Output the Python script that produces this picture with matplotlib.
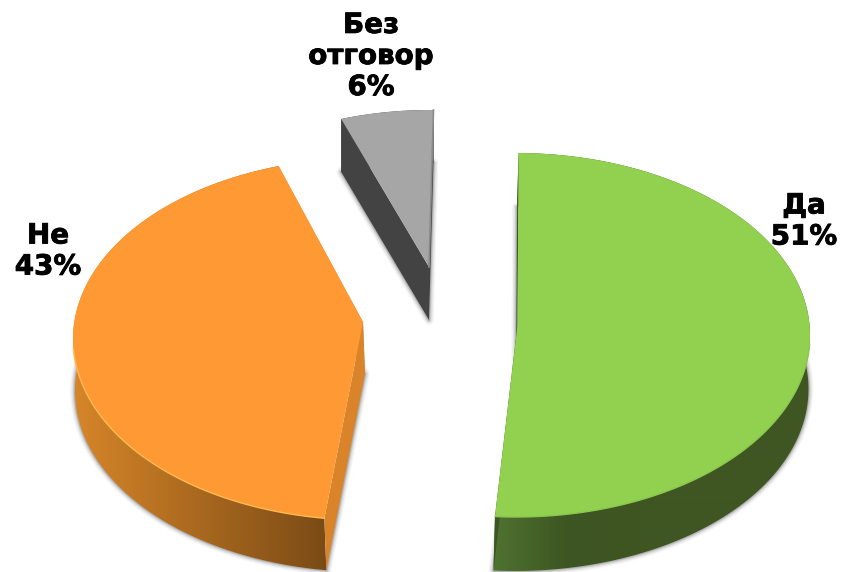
import numpy as np
import matplotlib
matplotlib.use('Agg')
import matplotlib.pyplot as plt
import matplotlib.patheffects as pe
from matplotlib.colors import LinearSegmentedColormap
from matplotlib.patches import Polygon

plt.rcParams['font.family'] = ['DejaVu Sans']

# данни
categories = ['Да', 'Не', 'Без\nотговор']
values = [51, 43, 6]

# геометрия на резените в пиксели: център на елипсата, радиуси, връх, дълбочина, начален ъгъл
slices = [
    dict(c=(516, 335), r=(294, 182), apex=(517.5, 325), depth=(-1.5, 54), start=0.5,
         top='#92d050', wall=('#4f7230', '#3d5522', '#3f5623'), cut='#3d5522',
         rim='#8ac74b', grad=(495, 640)),
    dict(c=(365, 339), r=(292, 181), apex=(363, 322), depth=(2, 52), start=188,
         top='#ff9933', wall=('#d68529', '#a8681f', '#7a4b16'), cut='#d9832a',
         rim='#ffb950', grad=(75, 327)),
    dict(c=(430, 248), r=(250, 138), apex=(429, 267), depth=(0, 53), start=339.2,
         top='#a6a6a6', wall=('#434343', '#434343', '#434343'), cut='#434343',
         rim='#a6a6a6', grad=(340, 432)),
]
label_pos = [(804, 221), (48, 251), (371, 56)]


def rim_points(s, value):
    span = value / sum(values) * 360
    th = np.radians(np.linspace(s['start'], s['start'] + span, 160))
    x = s['c'][0] + s['r'][0] * np.sin(th)
    y = s['c'][1] - s['r'][1] * np.cos(th)
    return np.column_stack([x, y])


def gradient_fill(ax, poly, s, zorder):
    cmap = LinearSegmentedColormap.from_list('w', list(s['wall']))
    x0, x1 = s['grad']
    grad = np.clip((np.arange(842) + 0.5 - x0) / (x1 - x0), 0, 1).reshape(1, -1)
    im = ax.imshow(grad, extent=(0, 842, 572, 0), cmap=cmap, vmin=0, vmax=1,
                   aspect='auto', zorder=zorder, interpolation='bilinear')
    patch = Polygon(poly, closed=True, transform=ax.transData, fc='none', ec='none')
    ax.add_patch(patch)
    im.set_clip_path(patch)


fig = plt.figure(figsize=(8.42, 5.72), dpi=100)
ax = fig.add_axes([0, 0, 1, 1])

for s, v in zip(slices, values):
    rim = rim_points(s, v)
    apex = np.array(s['apex'], float)
    d = np.array(s['depth'], float)
    top = np.vstack([apex, rim])
    bottom = top + d

    # мека сянка около долната стена
    for lw, a in [(7, 0.05), (5, 0.09), (3, 0.14), (1.5, 0.2)]:
        ax.add_patch(Polygon(bottom, closed=True, fc='none', ec='#404040', lw=lw, alpha=a,
                             joinstyle='round', zorder=1))

    # външна стена
    wall = np.vstack([rim, (rim + d)[::-1]])
    gradient_fill(ax, wall, s, 2)

    # срезовете отстрани
    cut_a = np.array([apex, rim[0], rim[0] + d, apex + d])
    cut_b = np.array([apex, rim[-1], rim[-1] + d, apex + d])
    ax.add_patch(Polygon(cut_a, closed=True, fc=s['cut'], ec='none', zorder=3))
    ax.add_patch(Polygon(cut_b, closed=True, fc=s['cut'], ec='none', zorder=3))

    # отгоре, светлият ръб е само отпред
    ax.add_patch(Polygon(top, closed=True, fc=s['top'], ec='none', zorder=4))
    front = rim[rim[:, 1] > s['c'][1] + 8]
    if len(front):
        ax.plot(front[:, 0], front[:, 1], color=s['rim'], lw=1.0, zorder=5)

# тънка сива стена от дясната страна на сивия резен
grey = slices[2]
grey_rim = rim_points(grey, values[2])
ax.plot([grey['apex'][0], grey_rim[-1, 0]], [grey['apex'][1], grey_rim[-1, 1]],
        color='#8a8a8a', lw=1.2, zorder=5)

for name, v, (x, y) in zip(categories, values, label_pos):
    ax.text(x, y, f'{name}\n{v}%', ha='center', va='center', fontsize=20,
            fontweight='bold', color='black', linespacing=1.14, zorder=6,
            path_effects=[pe.withStroke(linewidth=0.6, foreground='black')])

ax.set_xlim(0, 842)
ax.set_ylim(572, 0)
ax.axis('off')

fig.savefig('out.png', dpi=100)
